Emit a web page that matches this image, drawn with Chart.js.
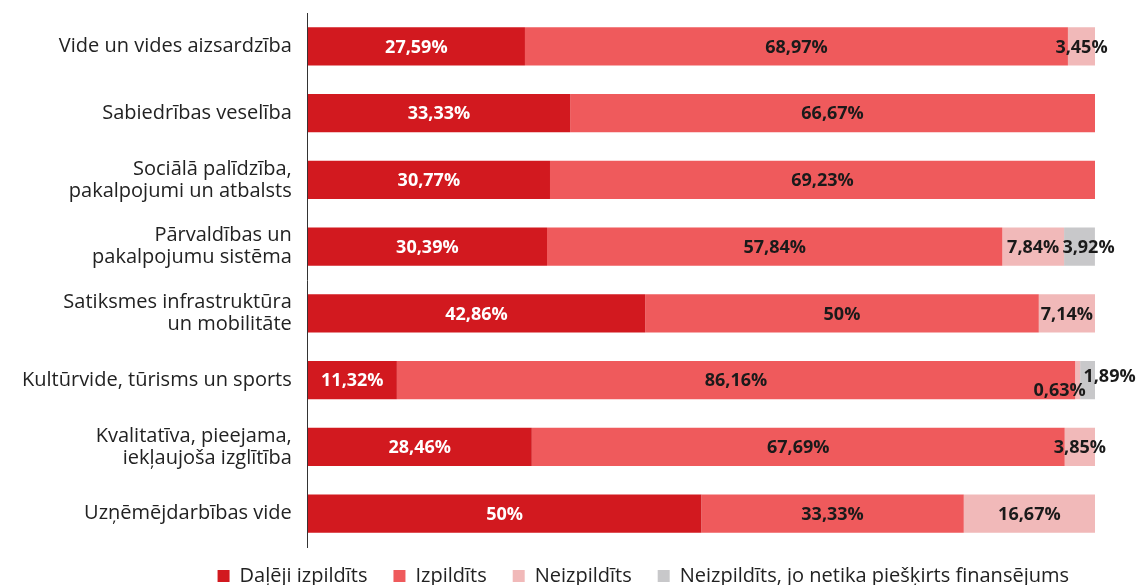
<!DOCTYPE html>
<html lang="lv">
<head>
<meta charset="UTF-8">
<title>Izpildes statuss</title>
<script src="https://cdn.jsdelivr.net/npm/chart.js"></script>
<style>
    html, body { margin: 0; padding: 0; background: #fff; }
    .chart-container { position: relative; width: 1140px; height: 585px; }
</style>
</head>
<body>
<div class="chart-container">
    <canvas id="statussChart"></canvas>
</div>
<script>
// ======= Dati =======
const kategorijas = [
    'Vide un vides aizsardzība',
    'Sabiedrības veselība',
    ['Sociālā palīdzība,', 'pakalpojumi un atbalsts'],
    ['Pārvaldības un', 'pakalpojumu sistēma'],
    ['Satiksmes infrastruktūra', 'un mobilitāte'],
    'Kultūrvide, tūrisms un sports',
    ['Kvalitatīva, pieejama,', 'iekļaujoša izglītība'],
    'Uzņēmējdarbības vide'
];
const daleji = [27.59, 33.33, 30.77, 30.39, 42.86, 11.32, 28.46, 50];
const izpildits = [68.97, 66.67, 69.23, 57.84, 50, 86.16, 67.69, 33.33];
const neizpildits = [3.45, 0, 0, 7.84, 7.14, 0.63, 3.85, 16.67];
const bezFinansejuma = [0, 0, 0, 3.92, 0, 1.89, 0, 0];

const fonts = '"Open Sans", Lato, sans-serif';

// ======= Vērtību etiķetes =======
const etiketes = {
    id: 'etiketes',
    beforeInit(chart) {
        // leģenda nedaudz zemāka, lai joslām paliek vairāk vietas
        const fit = chart.legend.fit;
        chart.legend.fit = function () {
            fit.call(this);
            this.height -= 5;
        };
    },
    afterLayout(chart) {
        // leģendas teksts tuvāk joslām
        chart.legend.top -= 7;
        chart.legend.bottom -= 7;
    },
    afterDatasetsDraw(chart) {
        const ctx = chart.ctx;
        ctx.save();
        ctx.font = 'bold 18px ' + fonts;
        ctx.textAlign = 'center';
        ctx.textBaseline = 'middle';
        chart.data.labels.forEach((_, i) => {
            let ieprieksSaurs = false;
            chart.data.datasets.forEach((ds, d) => {
                const v = ds.data[i];
                if (!v) return;
                const el = chart.getDatasetMeta(d).data[i];
                const teksts = String(v).replace('.', ',') + '%';
                const plat = Math.abs(el.x - el.base);
                let x = (el.x + el.base) / 2;
                let y = el.y + 1;
                const saurs = ctx.measureText(teksts).width > plat + 4;
                const nakamais = chart.data.datasets[d + 1] ? chart.data.datasets[d + 1].data[i] : 0;
                if (saurs && nakamais && plat < 15) {
                    x -= 18; y += 10;
                } else if (saurs && ieprieksSaurs) {
                    x += 22; y -= 4;
                } else if (saurs && d === 3) {
                    x += 9;
                }
                ieprieksSaurs = saurs && plat < 15;
                ctx.fillStyle = d === 0 ? '#ffffff' : '#1a1a1a';
                ctx.fillText(teksts, x, y);
            });
        });
        ctx.restore();
    }
};

function kopa(label, data, color) {
    return {
        label: label,
        data: data,
        backgroundColor: color,
        borderWidth: 0,
        categoryPercentage: 1,
        barPercentage: 0.57
    };
}

new Chart(document.getElementById('statussChart'), {
    type: 'bar',
    data: {
        labels: kategorijas,
        datasets: [
            kopa('Daļēji izpildīts', daleji, '#d2191f'),
            kopa('Izpildīts', izpildits, '#ef5a5c'),
            kopa('Neizpildīts', neizpildits, '#f1b9b9'),
            kopa('Neizpildīts, jo netika piešķirts finansējums', bezFinansejuma, '#c8c8ca')
        ]
    },
    options: {
        indexAxis: 'y',
        responsive: true,
        maintainAspectRatio: false,
        animation: false,
        layout: { padding: { top: 13, right: 45, bottom: -13, left: 6 } },
        scales: {
            x: {
                stacked: true,
                min: 0,
                max: 100,
                display: false
            },
            y: {
                stacked: true,
                grid: { display: false, drawTicks: false },
                border: { display: true, color: '#333', width: 1 },
                afterFit(scale) {
                    // tikai horizontālā atkāpe, bez vertikālās
                    scale.paddingTop = 0;
                    scale.paddingBottom = 0;
                },
                ticks: {
                    color: '#222',
                    padding: 16,
                    font: { family: fonts, size: 20, lineHeight: 1.1 }
                }
            }
        },
        plugins: {
            legend: {
                position: 'bottom',
                align: 'end',
                labels: {
                    color: '#222',
                    boxWidth: 12,
                    boxHeight: 12,
                    padding: 26,
                    font: { family: fonts, size: 20 }
                }
            },
            tooltip: { enabled: false }
        }
    },
    plugins: [etiketes]
});
</script>
</body>
</html>
